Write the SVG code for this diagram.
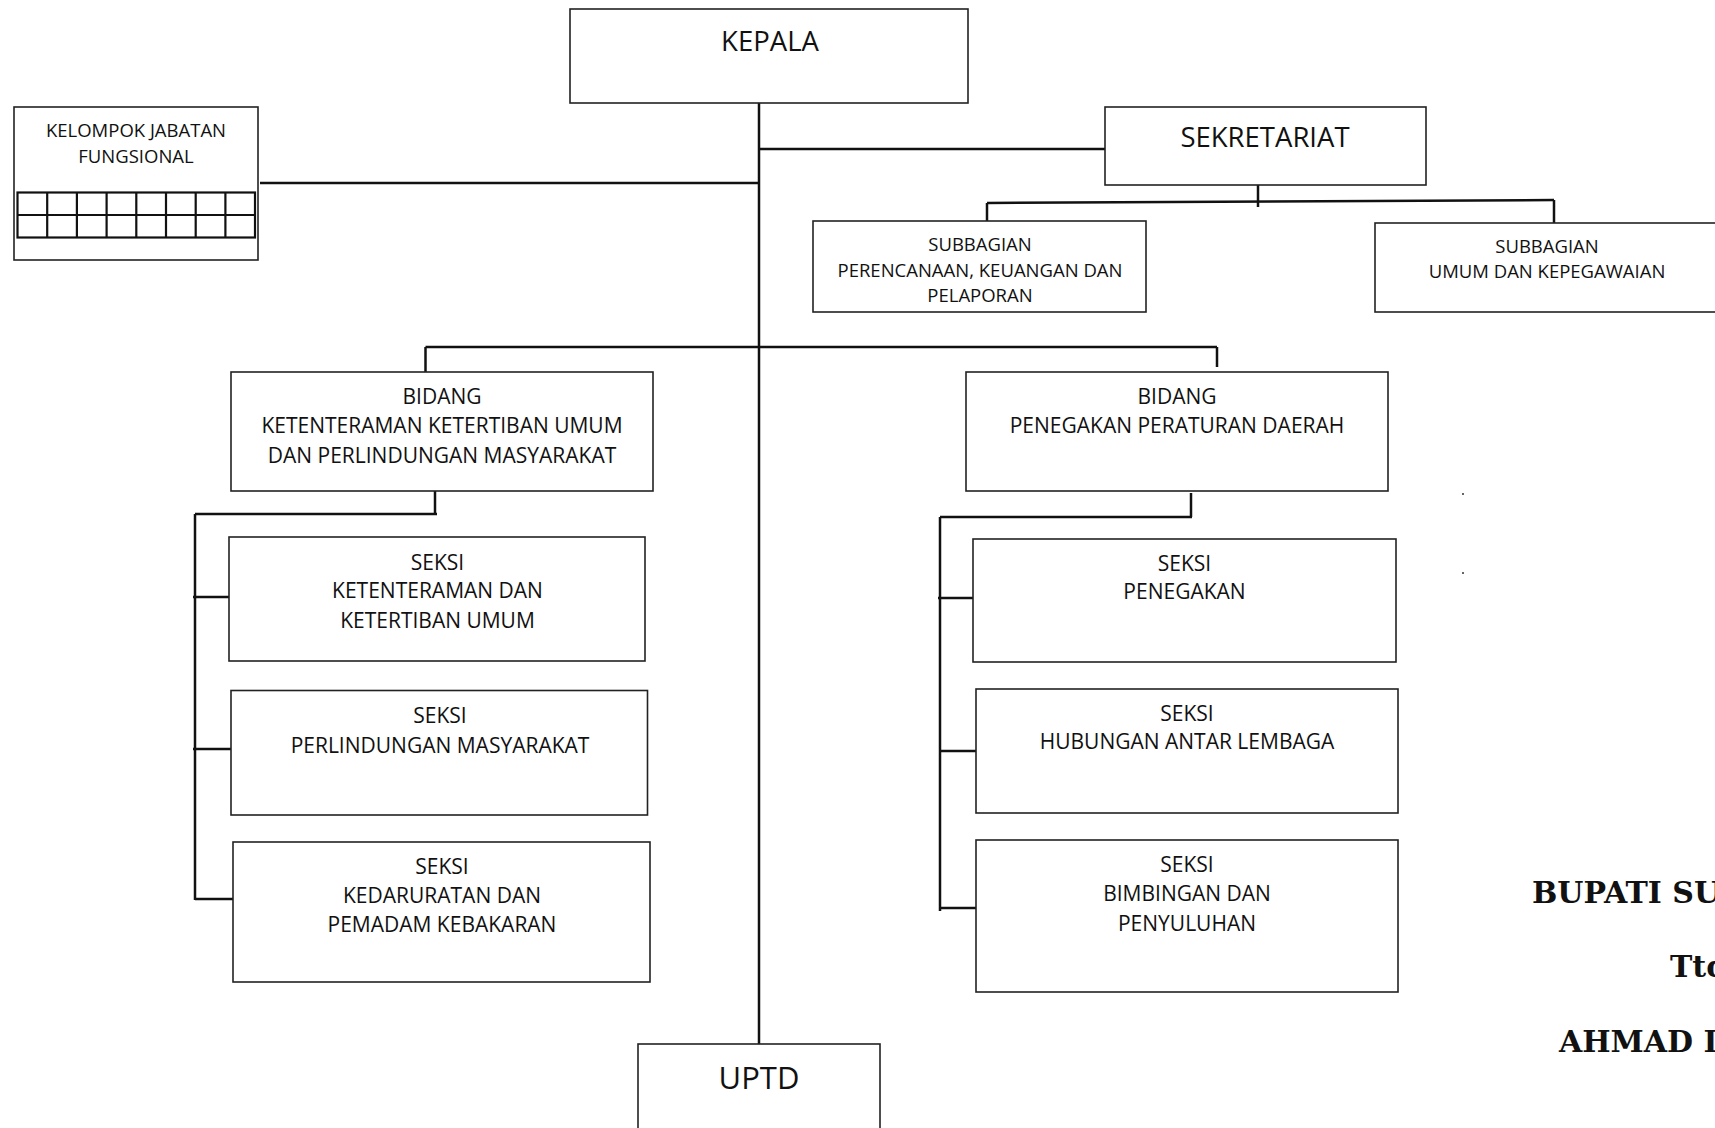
<svg xmlns="http://www.w3.org/2000/svg" width="1715" height="1128" viewBox="0 0 1715 1128">
<style>
.box{fill:#fff;stroke:#222;stroke-width:1.6}
.t{font-family:"Open Sans","Liberation Sans",sans-serif;fill:#111;text-anchor:middle}
.m{font-size:21px}
.s{font-size:18.5px}
.l{font-size:27.5px}
.c{fill:none;stroke:#111;stroke-width:2.5}
.g{fill:none;stroke:#111;stroke-width:2.2}
.sig{font-family:"DejaVu Serif","Liberation Serif",serif;font-weight:bold;font-size:30px;fill:#111}
</style>
<rect width="1715" height="1128" fill="#fff"/>
<g id="connectors">
<path class="c" d="M759 103V1044"/>
<path class="c" d="M759 149H1105"/>
<path class="c" d="M260 183H759"/>
<path class="c" d="M1258 185V207"/>
<path class="c" d="M987 203L1554 200"/>
<path class="c" d="M987 203V221"/>
<path class="c" d="M1554 200V223"/>
<path class="c" d="M425.5 347H1217"/>
<path class="c" d="M425.5 347V372"/>
<path class="c" d="M1217 347V367"/>
<path class="c" d="M435 491V514"/>
<path class="c" d="M195 514H437"/>
<path class="c" d="M195 514V900"/>
<path class="c" d="M193 597H232"/>
<path class="c" d="M193 749H231"/>
<path class="c" d="M195 899H233"/>
<path class="c" d="M1191 493V517"/>
<path class="c" d="M940 517H1192"/>
<path class="c" d="M940 517V911"/>
<path class="c" d="M938 598H973"/>
<path class="c" d="M940 751H981"/>
<path class="c" d="M940 908H979"/>
</g>
<g id="kepala">
<rect class="box" x="570" y="9" width="398" height="94"/>
<text class="t l" x="770" y="51">KEPALA</text>
</g>
<g id="kelompok">
<rect class="box" x="14" y="107" width="244" height="153"/>
<text class="t s" x="136" y="137">KELOMPOK JABATAN</text>
<text class="t s" x="136" y="163">FUNGSIONAL</text>
<rect class="g" x="17.5" y="192.5" width="237.5" height="45"/>
<path class="g" d="M17.5 215H255M47.2 192.5V237.5M76.9 192.5V237.5M106.6 192.5V237.5M136.3 192.5V237.5M166 192.5V237.5M195.7 192.5V237.5M225.4 192.5V237.5"/>
</g>
<g id="sekretariat">
<rect class="box" x="1105" y="107" width="321" height="78"/>
<text class="t l" x="1265" y="147">SEKRETARIAT</text>
</g>
<g id="subbagian-perencanaan">
<rect class="box" x="813" y="221" width="333" height="91"/>
<text class="t s" x="980" y="250.5">SUBBAGIAN</text>
<text class="t s" x="980" y="276.5">PERENCANAAN, KEUANGAN DAN</text>
<text class="t s" x="980" y="302">PELAPORAN</text>
</g>
<g id="subbagian-umum">
<rect class="box" x="1375" y="223" width="345" height="89"/>
<text class="t s" x="1547" y="252.5">SUBBAGIAN</text>
<text class="t s" x="1547" y="278">UMUM DAN KEPEGAWAIAN</text>
</g>
<g id="bidang-ketenteraman">
<rect class="box" x="231" y="372" width="422" height="119"/>
<text class="t m" x="442" y="403.5">BIDANG</text>
<text class="t m" x="442" y="433">KETENTERAMAN KETERTIBAN UMUM</text>
<text class="t m" x="442" y="462.5">DAN PERLINDUNGAN MASYARAKAT</text>
</g>
<g id="bidang-penegakan">
<rect class="box" x="966" y="372" width="422" height="119"/>
<text class="t m" x="1177" y="403.5">BIDANG</text>
<text class="t m" x="1177" y="433">PENEGAKAN PERATURAN DAERAH</text>
</g>
<g id="seksi-ketenteraman">
<rect class="box" x="229" y="537" width="416" height="124"/>
<text class="t m" x="437.5" y="570">SEKSI</text>
<text class="t m" x="437.5" y="598">KETENTERAMAN DAN</text>
<text class="t m" x="437.5" y="627.5">KETERTIBAN UMUM</text>
</g>
<g id="seksi-perlindungan">
<rect class="box" x="231" y="690.5" width="416.5" height="124.5"/>
<text class="t m" x="440" y="723">SEKSI</text>
<text class="t m" x="440" y="752.5">PERLINDUNGAN MASYARAKAT</text>
</g>
<g id="seksi-kedaruratan">
<rect class="box" x="233" y="842" width="417" height="140"/>
<text class="t m" x="442" y="874">SEKSI</text>
<text class="t m" x="442" y="903">KEDARURATAN DAN</text>
<text class="t m" x="442" y="931.5">PEMADAM KEBAKARAN</text>
</g>
<g id="seksi-penegakan">
<rect class="box" x="973" y="539" width="423" height="123"/>
<text class="t m" x="1184.5" y="571">SEKSI</text>
<text class="t m" x="1184.5" y="599">PENEGAKAN</text>
</g>
<g id="seksi-hubungan">
<rect class="box" x="976" y="689" width="422" height="124"/>
<text class="t m" x="1187" y="721">SEKSI</text>
<text class="t m" x="1187" y="749">HUBUNGAN ANTAR LEMBAGA</text>
</g>
<g id="seksi-bimbingan">
<rect class="box" x="976" y="840" width="422" height="152"/>
<text class="t m" x="1187" y="871.5">SEKSI</text>
<text class="t m" x="1187" y="901">BIMBINGAN DAN</text>
<text class="t m" x="1187" y="930.5">PENYULUHAN</text>
</g>
<g id="uptd">
<rect class="box" x="638" y="1044" width="242" height="100"/>
<text class="t" style="font-size:31px" x="759" y="1089">UPTD</text>
</g>
<circle cx="1463" cy="494" r="1" fill="#333"/>
<circle cx="1463" cy="573" r="1" fill="#333"/>
<g id="signature">
<text class="sig" x="1532" y="903">BUPATI SU</text>
<text class="sig" x="1670" y="977">Ttd</text>
<text class="sig" x="1559" y="1052">AHMAD D</text>
</g>
</svg>
